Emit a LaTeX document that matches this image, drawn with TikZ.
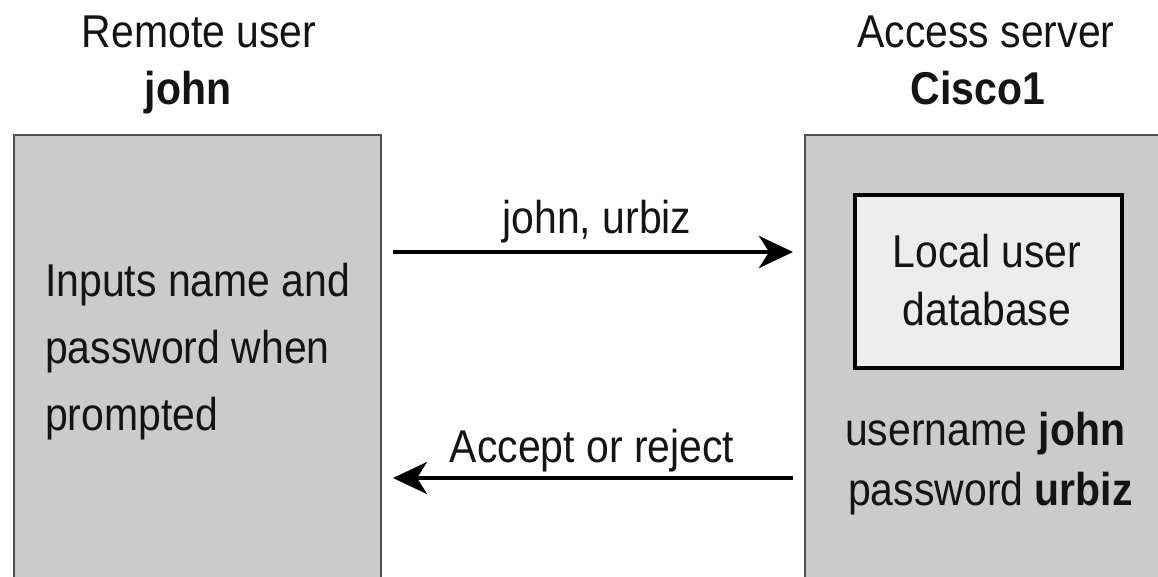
\documentclass[tikz,border=0pt]{standalone}
\usepackage{fontspec}
\setmainfont[FakeStretch=0.89]{Liberation Sans}
\usetikzlibrary{arrows.meta}
\definecolor{boxgray}{HTML}{CBCBCB}
\definecolor{dbgray}{HTML}{ECECEC}
\definecolor{edgegray}{HTML}{505050}
\definecolor{ink}{HTML}{141414}
\begin{document}
\begin{tikzpicture}[x=1pt, y=-1pt,
  txt/.style={inner sep=0pt, text=ink, font=\fontsize{46}{55}\selectfont},
  party/.style={draw=edgegray, line width=2.5pt, fill=boxgray},
  dbbox/.style={draw=black, line width=4.5pt, fill=dbgray},
  msg/.style={line width=4pt, draw=black, -{Stealth[length=34pt, width=32pt, inset=10pt]},
    shorten <=12pt, shorten >=12pt}]
  % page
  \useasboundingbox (0,0) rectangle (1158,577);
  \clip (0,0) rectangle (1158,577);
  \fill[white] (0,0) rectangle (1158,577);

  % the two parties (boxes run off the lower edge)
  \draw[party] (14,135) rectangle (381,600);
  \draw[party] (805,135) rectangle (1175,600);
  \coordinate (user) at (381,135);
  \coordinate (server) at (805,135);

  % titles
  \node[txt, anchor=base] (t1) at (199,48) {Remote user};
  \node[txt, anchor=base, font=\fontsize{46}{55}\selectfont\bfseries] (t2) at (188,105) {john};
  \node[txt, anchor=base] (t3) at (986,48) {Access server};
  \node[txt, anchor=base, font=\fontsize{46}{55}\selectfont\bfseries] (t4) at (978,105) {Cisco1};

  % remote user text
  \node[txt, anchor=base west] (u1) at (45,296) {Inputs name and};
  \node[txt, anchor=base west] (u2) at (45,363) {password when};
  \node[txt, anchor=base west] (u3) at (45,430) {prompted};

  % local database
  \draw[dbbox] (855,195) rectangle (1122,368);
  \node[txt, anchor=base] (d1) at (987,267) {Local user};
  \node[txt, anchor=base] (d2) at (987,325) {database};

  \node[txt, anchor=base west] (s1) at (845,445) {username \textbf{john}};
  \node[txt, anchor=base west] (s2) at (848,505) {password \textbf{urbiz}};

  % messages
  \coordinate (m1) at (0,252);
  \coordinate (m2) at (0,478);
  \draw[msg] (user |- m1) -- (server |- m1);
  \draw[msg] (server |- m2) -- (user |- m2);
  \node[txt, anchor=base] (l1) at (597,234) {john, urbiz};
  \node[txt, anchor=base] (l2) at (592,462) {Accept or reject};
\end{tikzpicture}
\end{document}
